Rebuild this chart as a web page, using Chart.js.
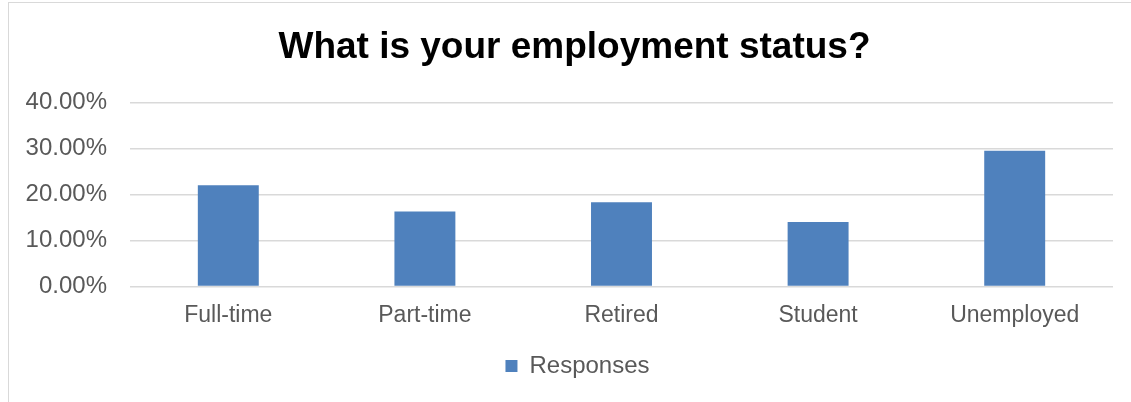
<!DOCTYPE html>
<html>
<head>
<meta charset="utf-8">
<script src="https://cdn.jsdelivr.net/npm/chart.js@4/dist/chart.umd.min.js"></script>
<style>
  html, body { margin: 0; padding: 0; background: #fff; overflow: hidden; }
  #frame {
    position: absolute; left: 8px; top: 2px; width: 1200px; height: 500px;
    border: 1px solid #d9d9d9; box-sizing: border-box;
  }
  #wrap { position: absolute; left: 0; top: 0; width: 1131px; height: 402px; }
</style>
</head>
<body>
<div id="frame"></div>
<div id="wrap"><canvas id="employment"></canvas></div>
<script>
// employment status survey
const categories = ["Full-time", "Part-time", "Retired", "Student", "Unemployed"];
const responses = [0.22, 0.163, 0.183, 0.14, 0.295];
const yTicks = [0, 0.1, 0.2, 0.3, 0.4];

const fontFamily = "'Liberation Sans', Arial, sans-serif";
const grey = "#595959";

// nudge the title and legend a little to the right of the canvas centre
const nudgeBlocks = {
  id: "nudgeBlocks",
  afterLayout(chart) {
    const t = chart.titleBlock;
    t.left += 6;
    t.right += 6;
    const l = chart.legend;
    l.left += 9;
    l.right += 9;
  },
};

const ctx = document.getElementById("employment");

new Chart(ctx, {
  type: "bar",
  data: {
    labels: categories,
    datasets: [
      {
        label: "Responses",
        data: responses,
        backgroundColor: "#4f81bd",
        barPercentage: 0.31,
        categoryPercentage: 1,
      },
    ],
  },
  options: {
    responsive: true,
    maintainAspectRatio: false,
    animation: false,
    layout: {
      padding: { left: 24, right: 18, top: 0, bottom: 14 },
    },
    plugins: {
      title: {
        display: true,
        text: "What is your employment status?",
        color: "#000",
        font: { family: fontFamily, size: 37, weight: "bold" },
        padding: { top: 26, bottom: 32 },
      },
      legend: {
        position: "bottom",
        labels: {
          color: grey,
          font: { family: fontFamily, size: 24 },
          boxWidth: 12,
          boxHeight: 12,
          padding: 18,
        },
      },
      tooltip: { enabled: false },
    },
    scales: {
      y: {
        min: 0,
        max: 0.4,
        afterBuildTicks: (scale) => {
          scale.ticks = yTicks.map((v) => ({ value: v }));
        },
        // fixed axis width keeps the plot starting at x = 130
        afterFit: (scale) => {
          scale.width = 106;
        },
        ticks: {
          color: grey,
          padding: 23,
          font: { family: fontFamily, size: 24 },
          callback: (v) => (v * 100).toFixed(2) + "%",
        },
        grid: { color: "#d9d9d9", lineWidth: 1.5, drawTicks: false },
        border: { display: false },
      },
      x: {
        ticks: {
          color: grey,
          padding: 7,
          font: { family: fontFamily, size: 23 },
        },
        grid: { display: false },
        border: { display: false },
      },
    },
  },
  plugins: [nudgeBlocks],
});
</script>
</body>
</html>
